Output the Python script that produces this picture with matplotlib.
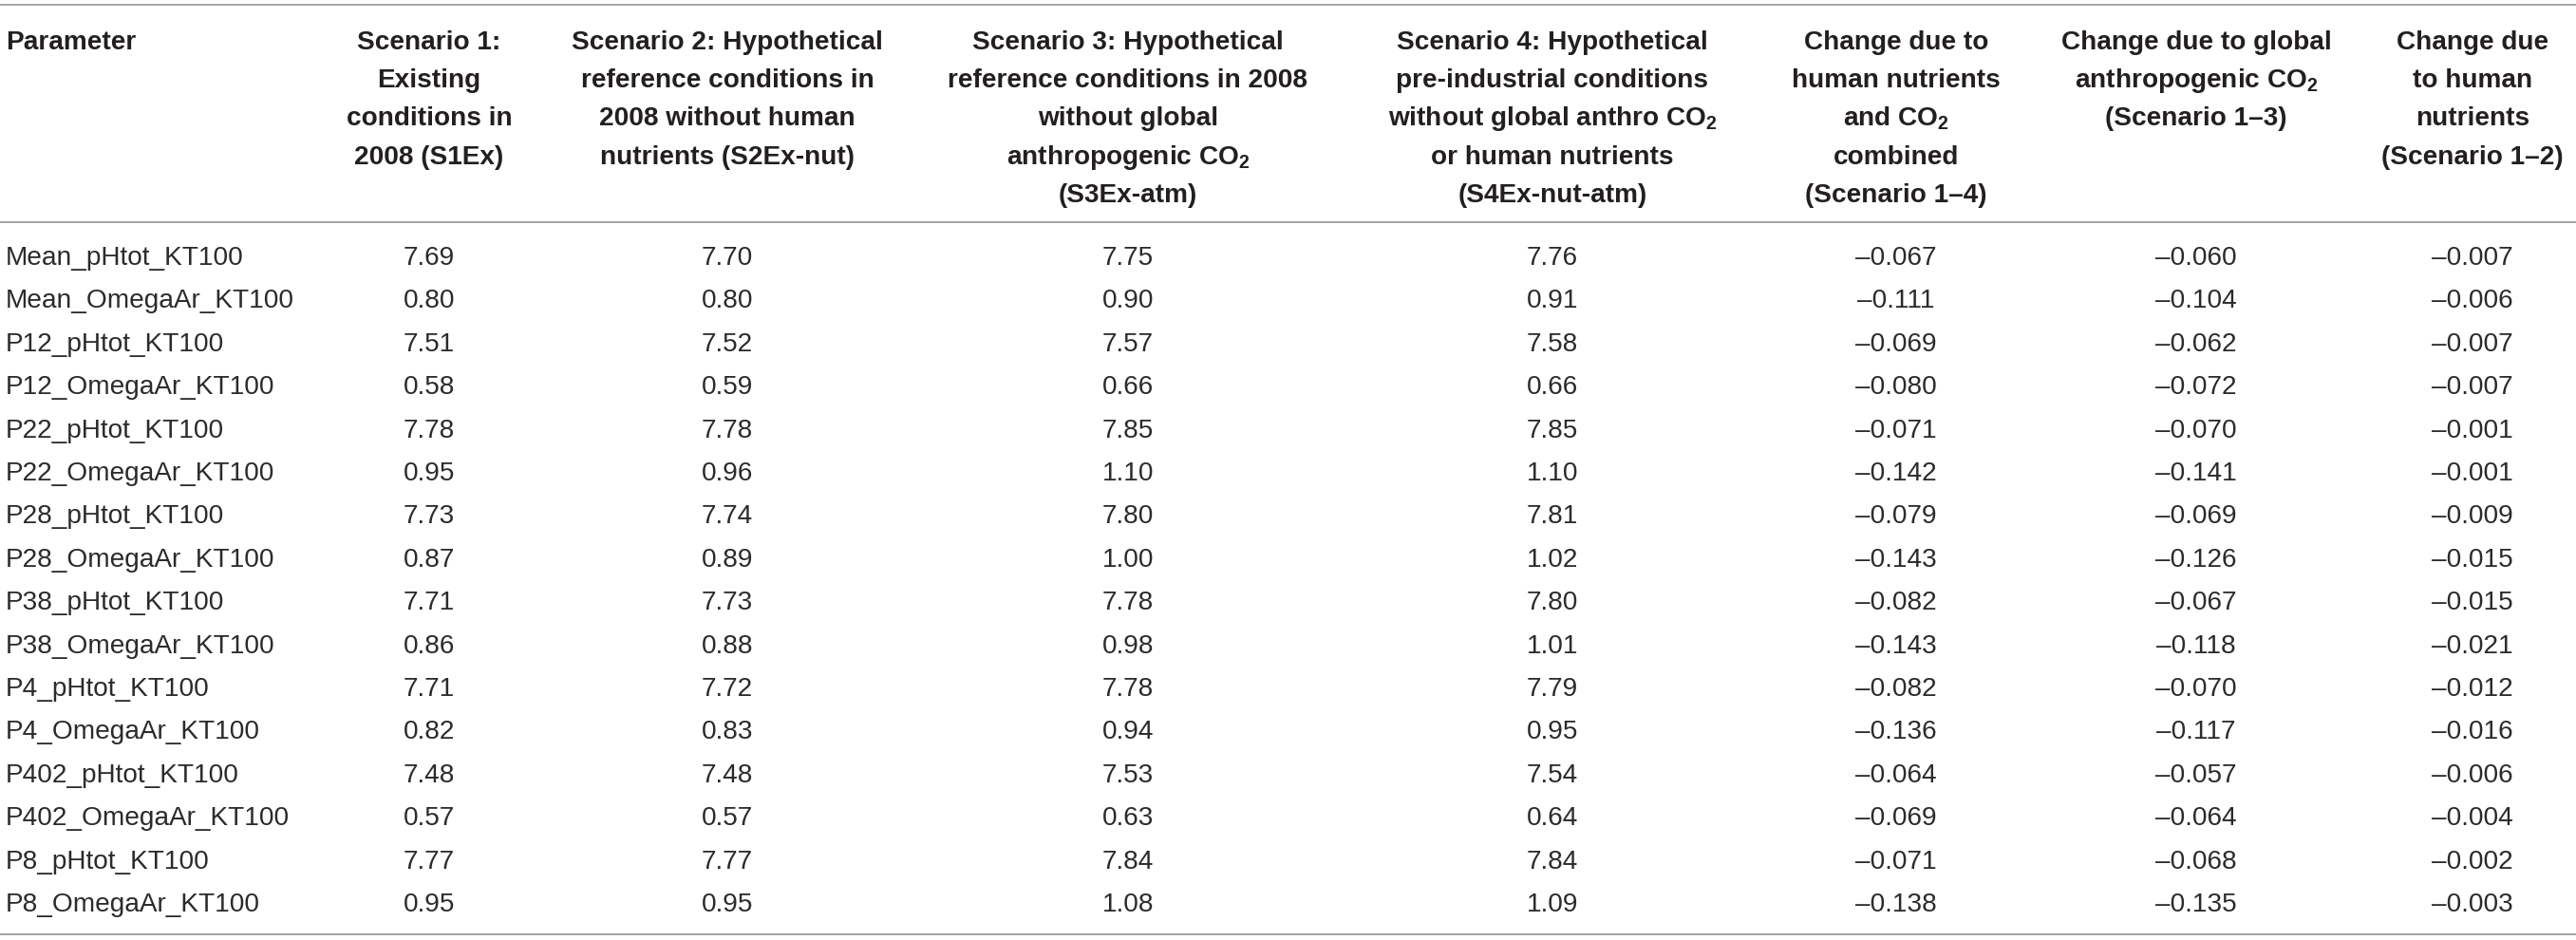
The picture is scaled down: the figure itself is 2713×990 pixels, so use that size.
import matplotlib
matplotlib.use("Agg")
from matplotlib import pyplot as plt

plt.rcParams['font.family'] = ['Liberation Sans', 'DejaVu Sans']
plt.rcParams['mathtext.fontset'] = 'custom'
plt.rcParams['mathtext.rm'] = 'Liberation Sans'
plt.rcParams['mathtext.bf'] = 'Liberation Sans:bold'

########### data ###########
params = ["Mean_pHtot_KT100", "Mean_OmegaAr_KT100", "P12_pHtot_KT100", "P12_OmegaAr_KT100",
          "P22_pHtot_KT100", "P22_OmegaAr_KT100", "P28_pHtot_KT100", "P28_OmegaAr_KT100",
          "P38_pHtot_KT100", "P38_OmegaAr_KT100", "P4_pHtot_KT100", "P4_OmegaAr_KT100",
          "P402_pHtot_KT100", "P402_OmegaAr_KT100", "P8_pHtot_KT100", "P8_OmegaAr_KT100"]
s1 = [7.69, 0.80, 7.51, 0.58, 7.78, 0.95, 7.73, 0.87, 7.71, 0.86, 7.71, 0.82, 7.48, 0.57, 7.77, 0.95]
s2 = [7.70, 0.80, 7.52, 0.59, 7.78, 0.96, 7.74, 0.89, 7.73, 0.88, 7.72, 0.83, 7.48, 0.57, 7.77, 0.95]
s3 = [7.75, 0.90, 7.57, 0.66, 7.85, 1.10, 7.80, 1.00, 7.78, 0.98, 7.78, 0.94, 7.53, 0.63, 7.84, 1.08]
s4 = [7.76, 0.91, 7.58, 0.66, 7.85, 1.10, 7.81, 1.02, 7.80, 1.01, 7.79, 0.95, 7.54, 0.64, 7.84, 1.09]
d14 = [-0.067, -0.111, -0.069, -0.080, -0.071, -0.142, -0.079, -0.143,
       -0.082, -0.143, -0.082, -0.136, -0.064, -0.069, -0.071, -0.138]
d13 = [-0.060, -0.104, -0.062, -0.072, -0.070, -0.141, -0.069, -0.126,
       -0.067, -0.118, -0.070, -0.117, -0.057, -0.064, -0.068, -0.135]
d12 = [-0.007, -0.006, -0.007, -0.007, -0.001, -0.001, -0.009, -0.015,
       -0.015, -0.021, -0.012, -0.016, -0.006, -0.004, -0.002, -0.003]

co2 = r"CO$_\mathbf{2}$"
headers = [
    ["Parameter"],
    ["Scenario 1:", "Existing", "conditions in", "2008 (S1Ex)"],
    ["Scenario 2: Hypothetical", "reference conditions in", "2008 without human", "nutrients (S2Ex-nut)"],
    ["Scenario 3: Hypothetical", "reference conditions in 2008", "without global",
     "anthropogenic " + co2, "(S3Ex-atm)"],
    ["Scenario 4: Hypothetical", "pre-industrial conditions", "without global anthro " + co2,
     "or human nutrients", "(S4Ex-nut-atm)"],
    ["Change due to", "human nutrients", "and " + co2, "combined", "(Scenario 1\u20134)"],
    ["Change due to global", "anthropogenic " + co2, "(Scenario 1\u20133)"],
    ["Change due", "to human", "nutrients", "(Scenario 1\u20132)"],
]

########### layout ###########
W, H = 2713, 990
col_x = [6, 452, 766, 1188, 1635, 1997, 2313, 2604]
head_base = 52
head_step = 40.2
row0 = 279
row_step = 45.4
rule_col = '#a3a3a3'
head_col = '#231f20'
body_col = '#2b2b2b'
fs = 20.2

fig = plt.figure(figsize=(W / 100, H / 100), dpi=100)
ax = fig.add_axes([0, 0, 1, 1])
ax.set_xlim(0, W)
ax.set_ylim(H, 0)
ax.axis('off')

for y in (5, 234, 984):
    ax.axhline(y, color=rule_col, lw=1.4)

## header
for i, lines in enumerate(headers):
    ha = 'left' if i == 0 else 'center'
    for k, line in enumerate(lines):
        ax.text(col_x[i], head_base + k * head_step, line, ha=ha, va='baseline',
                fontsize=fs, fontweight='bold', color=head_col)

## body
def fmt2(v):
    return "%.2f" % v

def fmt3(v):
    return ("%.3f" % v).replace('-', '\u2013')

cols = [s1, s2, s3, s4, d14, d13, d12]
fmts = [fmt2, fmt2, fmt2, fmt2, fmt3, fmt3, fmt3]
for r, name in enumerate(params):
    y = row0 + r * row_step
    ax.text(col_x[0], y, name, ha='left', va='baseline', fontsize=fs, color=body_col)
    for c, vals in enumerate(cols):
        ax.text(col_x[c + 1], y, fmts[c](vals[r]), ha='center', va='baseline',
                fontsize=fs, color=body_col)

fig.savefig('out.png', dpi=100)
